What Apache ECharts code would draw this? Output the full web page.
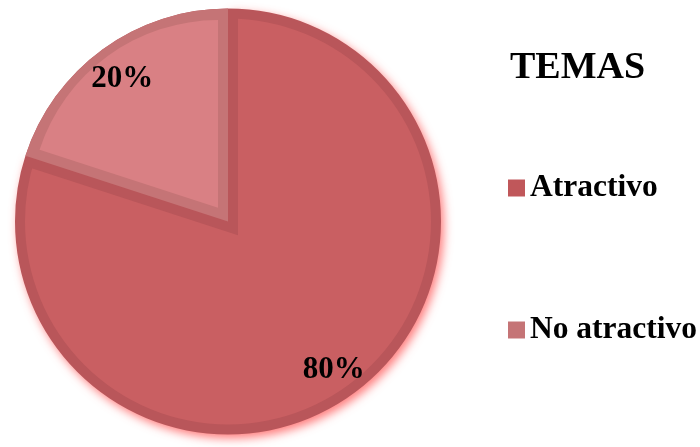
<!DOCTYPE html>
<html>
<head>
<meta charset="utf-8">
<script src="https://cdn.jsdelivr.net/npm/echarts@6/dist/echarts.min.js"></script>
<style>
  html, body { margin: 0; padding: 0; background: #fff; }
  #chart { width: 700px; height: 447px; }
</style>
</head>
<body>
<div id="chart"></div>
<script>
// Survey answers: how attractive the topics are
const categories = ['Atractivo', 'No atractivo'];
const values = [80, 20];
const legendTitle = 'TEMAS';

// Slice styling
const fillColors = ['#c95f62', '#d98084'];
const borderColors = ['#b9565a', '#c57476'];
const legendColors = ['#c0575a', '#c57476'];
const FONT = "'Liberation Serif', 'Times New Roman', serif";

// Pie geometry (pixels)
const CX = 228, CY = 221.5;
const R_OUT = 213;      // outer edge of the pie
const BORDER = 10;      // width of the inset slice outline

const total = values.reduce((a, b) => a + b, 0);
// second slice: half opening angle and bisector direction (clockwise from 12 o'clock)
const half = Math.PI * values[1] / total;
const bis = 2 * Math.PI * (values[0] + values[1] / 2) / total;
const bx = Math.sin(bis), by = -Math.cos(bis);
// shifting a wedge along its bisector by this much moves both straight edges by BORDER
const shift = BORDER / Math.sin(half);

const chart = echarts.init(document.getElementById('chart'), null, { renderer: 'canvas' });

function pieLayer(center, radius, colors, extra) {
  return Object.assign({
    type: 'pie',
    center: center,
    radius: radius,
    startAngle: 90,
    clockwise: true,
    silent: true,
    animation: false,
    avoidLabelOverlap: false,
    label: { show: false },
    labelLine: { show: false },
    emphasis: { disabled: true },
    data: categories.map((name, i) => ({
      name: name,
      value: values[i],
      itemStyle: Object.assign({ color: colors[i], borderWidth: 0 },
        (extra && extra.itemStyles && extra.itemStyles[i]) || {})
    }))
  }, extra && extra.series || {});
}

const option = {
  backgroundColor: '#ffffff',
  animation: false,
  title: {
    text: legendTitle,
    left: 505,
    top: 43,
    textStyle: { fontFamily: FONT, fontWeight: 'bold', fontSize: 38, lineHeight: 40, color: '#000' }
  },
  legend: {
    orient: 'vertical',
    left: 503,
    top: 166,
    itemWidth: 17,
    itemHeight: 17,
    itemGap: 108,
    icon: 'rect',
    selectedMode: false,
    textStyle: { fontFamily: FONT, fontWeight: 'bold', fontSize: 31.5, lineHeight: 34, color: '#000' },
    data: categories.map((name, i) => ({ name: name, itemStyle: { color: legendColors[i], borderWidth: 0 } }))
  },
  series: [
    // outer ring colour of the whole pie, with a soft red glow
    pieLayer([CX, CY], [0, R_OUT], [borderColors[0], borderColors[0]], {
      itemStyles: [{ shadowBlur: 10, shadowColor: 'rgba(255,95,95,0.8)', shadowOffsetX: 3, shadowOffsetY: 4 }, {}]
    }),
    // interior of the large slice
    pieLayer([CX, CY], [0, R_OUT - BORDER], [fillColors[0], fillColors[0]]),
    // outline band of the large slice along the small slice's edges
    pieLayer([CX - shift * bx, CY - shift * by], [0, R_OUT + shift * Math.cos(half) - 1],
      ['rgba(0,0,0,0)', borderColors[0]]),
    // small slice outline
    pieLayer([CX, CY], [0, R_OUT], ['rgba(0,0,0,0)', borderColors[1]]),
    // small slice interior
    pieLayer([CX + shift * bx, CY + shift * by],
      [0, R_OUT - BORDER - shift * (1 + Math.cos(half)) / 2],
      ['rgba(0,0,0,0)', fillColors[1]]),
    // percentage labels
    pieLayer([CX, CY + 3], [150, 204], ['rgba(0,0,0,0)', 'rgba(0,0,0,0)'], {
      series: {
        label: {
          show: true,
          position: 'inside',
          formatter: '{d}%',
          fontFamily: FONT,
          fontWeight: 'bold',
          fontSize: 31,
          color: '#000'
        }
      }
    })
  ]
};

chart.setOption(option);
</script>
</body>
</html>
